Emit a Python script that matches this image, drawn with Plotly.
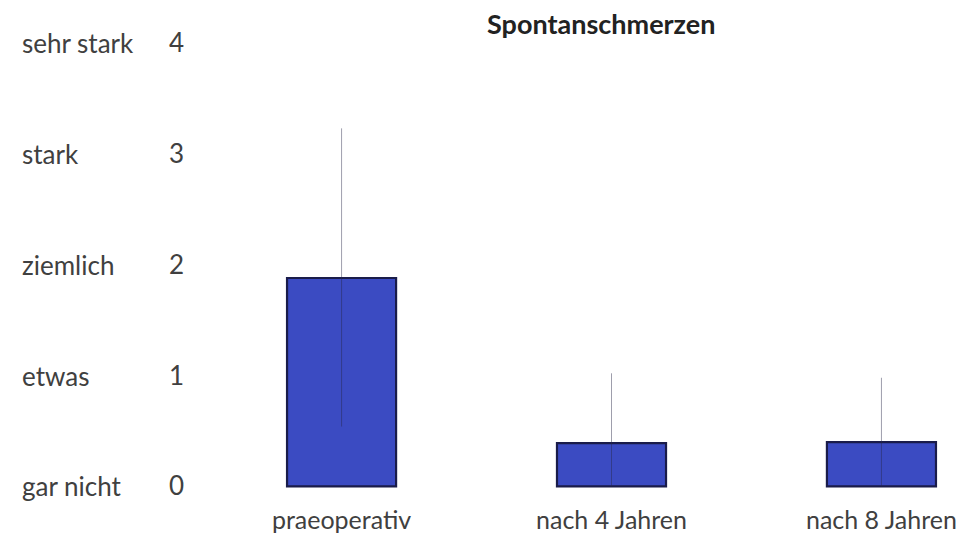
import plotly.graph_objects as go

# Werte
categories = ["praeoperativ", "nach 4 Jahren", "nach 8 Jahren"]
means = [1.88, 0.39, 0.40]
err_plus = [1.35, 0.63, 0.58]
err_minus = [1.34, 0.39, 0.40]

tick_vals = [0, 1, 2, 3, 4]
tick_words = ["gar nicht", "etwas", "ziemlich", "stark", "sehr stark"]

FONT = "Lato, 'Open Sans', sans-serif"
TXT = "#404040"

fig = go.Figure()

fig.add_trace(go.Bar(
    x=categories,
    y=means,
    width=0.404,
    marker=dict(color="#3b4bc2", line=dict(color="#1a1c4a", width=2.2)),
    showlegend=False,
    hoverinfo="skip",
))

# Fehlerbalken als eigene Spur, damit sie ueber den Balken liegen
fig.add_trace(go.Scatter(
    x=categories,
    y=means,
    mode="markers",
    marker=dict(size=0.1, color="rgba(0,0,0,0)"),
    error_y=dict(
        type="data",
        symmetric=False,
        array=err_plus,
        arrayminus=err_minus,
        color="rgba(40,40,70,0.45)",
        thickness=1,
        width=0,
    ),
    showlegend=False,
))

# Beschriftung der Skala links
for v, w in zip(tick_vals, tick_words):
    fig.add_annotation(
        x=-0.2129, xref="paper", xanchor="left",
        y=v, yref="y",
        text=w, showarrow=False,
        font=dict(family=FONT, size=26, color=TXT),
    )

# Titel als Annotation
fig.add_annotation(
    x=(593 - 177) / 775, xref="paper", xanchor="center",
    y=1 + (35 - 15) / 460, yref="paper", yanchor="middle",
    text="<b>Spontanschmerzen</b>", showarrow=False,
    font=dict(family=FONT, size=27, color="#222222"),
)

fig.update_layout(
    width=959,
    height=530,
    margin=dict(l=177, r=7, t=35, b=35, autoexpand=False),
    paper_bgcolor="white",
    plot_bgcolor="white",
    font=dict(family=FONT, size=26, color=TXT),
)

fig.update_xaxes(
    type="category",
    range=[-0.580, 2.291],
    showgrid=False, showline=False, zeroline=False,
    ticks="",
    tickfont=dict(family=FONT, size=25, color=TXT),
)
fig.update_yaxes(
    range=[-0.15, 4],
    tickvals=tick_vals,
    showgrid=False, showline=False, zeroline=False,
    ticks="",
    tickfont=dict(family=FONT, size=26, color=TXT),
)

fig.write_html("out.html")
